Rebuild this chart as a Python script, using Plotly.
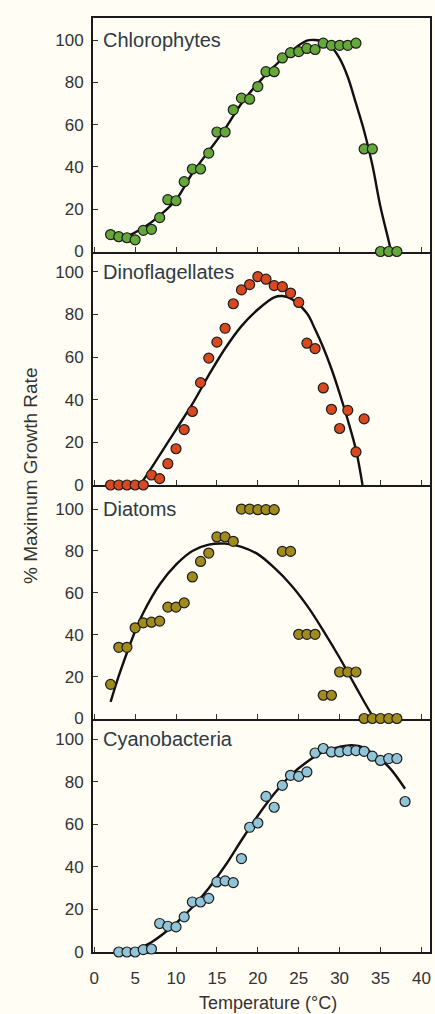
import plotly.graph_objects as go
from plotly.subplots import make_subplots

# ---------------- data ----------------
panel_names = ["Chlorophytes", "Dinoflagellates", "Diatoms", "Cyanobacteria"]
x_ticks = [0, 5, 10, 15, 20, 25, 30, 35, 40]
y_ticks = [0, 20, 40, 60, 80, 100]

chl_temp = [2, 3, 4, 5, 6, 7, 8, 9, 10, 11, 12, 13, 14, 15, 16, 17, 18, 19,
            20, 21, 22, 23, 24, 25, 26, 27, 28, 29, 30, 31, 32, 33, 34, 35, 36, 37]
chl_rate = [8, 7, 6.5, 5.5, 10, 10.5, 16, 24.5, 24, 33, 39, 39, 46.5, 56.5, 56.5, 67, 72.5, 72,
            78, 85, 85, 91.5, 94, 94.5, 96, 95.5, 98.5, 97.5, 97.5, 97.5, 98.5, 48.5, 48.5, 0, 0, 0]
chl_fit_temp = [2, 3, 4, 6, 8, 10, 12, 14, 16, 18, 20, 22, 24, 26, 27, 28, 29, 30, 31, 32, 33, 34, 35, 36, 36.3]
chl_fit_rate = [6.3, 6.2, 7.2, 11.2, 17, 24.5, 37, 47.5, 58, 70, 79.5, 87.5, 94.5, 99.7, 100, 99.2,
                96.8, 91.3, 82.5, 70, 57, 41, 21, 5, 0]

din_temp = [2, 3, 4, 5, 6, 7, 8, 9, 10, 11, 12, 13, 14, 15, 16, 17, 18, 19, 20, 21,
            22, 23, 24, 25, 26, 27, 28, 29, 30, 31, 32, 33]
din_rate = [0, 0, 0, 0, 0, 4.7, 3, 10, 17, 26, 34.5, 48, 59.5, 67, 73.5, 85, 91.5, 94, 97.7, 96.5,
            93.5, 93, 90, 85.6, 66.5, 64, 45.5, 35.5, 26.5, 35, 15.5, 31]
din_fit_temp = [5.5, 6, 8, 10, 12, 14, 16, 18, 20, 22, 23, 24, 26, 27, 28, 29, 30, 31, 32, 32.8]
din_fit_rate = [0, 2.3, 14, 26, 38, 51.5, 64, 74.5, 82.3, 88, 88.6, 87.5, 80.5, 73, 64.5, 54.5,
                43, 30.5, 16.5, 0]

dia_temp = [2, 3, 4, 5, 6, 7, 8, 9, 10, 11, 12, 13, 14, 15, 16, 17, 18, 19, 20, 21,
            22, 23, 24, 25, 26, 27, 28, 29, 30, 31, 32, 33, 34, 35, 36, 37]
dia_rate = [16.3, 34, 34, 43.3, 45.7, 46, 46.5, 53.2, 53.2, 55.2, 67.6, 75, 79, 86.7, 86.7, 84.6,
            100, 100, 99.7, 99.7, 99.7, 79.8, 79.8, 40.2, 40.2, 40.2, 11.1, 11.1, 22.2, 22.2, 22.2,
            0, 0, 0, 0, 0]
dia_fit_temp = [2, 3, 4, 5, 6, 8, 10, 12, 14, 16, 18, 20, 22, 24, 26, 28, 30, 31, 32, 33, 34.2]
dia_fit_rate = [7.9, 20.3, 31.4, 41.7, 50.5, 64, 73.5, 80, 83, 83.5, 82, 78.5, 72, 64, 54, 42,
                29, 22, 15, 8, 0]

cya_temp = [3, 4, 5, 6, 7, 8, 9, 10, 11, 12, 13, 14, 15, 16, 17, 18, 19, 20, 21, 22,
            23, 24, 25, 26, 27, 28, 29, 30, 31, 32, 33, 34, 35, 36, 37, 38]
cya_rate = [0, 0, 0, 1.1, 1.4, 13.4, 12.1, 11.8, 16.5, 23.5, 23.5, 25.2, 32.9, 33.4, 32.6, 43.9,
            58.6, 60.6, 73.1, 68, 78.3, 83, 82.5, 84.6, 93.5, 95.6, 94, 94, 94.6, 94.6, 94.3, 92,
            90, 90.9, 90.9, 70.7]
cya_fit_temp = [3, 5, 7, 10, 12, 14, 16, 18, 20, 22, 24, 26, 28, 30, 31.5, 33, 34, 36, 38]
cya_fit_rate = [0, 1.1, 4.6, 13.5, 21, 30, 40.5, 52.5, 64, 74.3, 83, 89.3, 94, 96.4, 97.2, 96,
                93.2, 87, 76.7]

point_temps = [chl_temp, din_temp, dia_temp, cya_temp]
point_rates = [chl_rate, din_rate, dia_rate, cya_rate]
fit_temps = [chl_fit_temp, din_fit_temp, dia_fit_temp, cya_fit_temp]
fit_rates = [chl_fit_rate, din_fit_rate, dia_fit_rate, cya_fit_rate]

# ---------------- style ----------------
marker_colors = ["#64a83a", "#d8491f", "#a08b1c", "#92c4d8"]
y_tops = [110.4, 109.5, 111.5, 109.7]
BG = "#fffdf4"
FONT = "Liberation Sans, Arial, sans-serif"

fig = make_subplots(rows=4, cols=1, shared_xaxes=True, vertical_spacing=0)

for i in range(4):
    r = i + 1
    fig.add_trace(go.Scatter(
        x=fit_temps[i], y=fit_rates[i], mode="lines",
        line=dict(color="#111111", width=2.4, shape="spline", smoothing=1.0),
        cliponaxis=False, hoverinfo="skip", showlegend=False), row=r, col=1)
    fig.add_trace(go.Scatter(
        x=point_temps[i], y=point_rates[i], mode="markers",
        marker=dict(size=10, color=marker_colors[i],
                    line=dict(color="#1c1c1c", width=1.2)),
        cliponaxis=False, showlegend=False), row=r, col=1)
    fig.add_annotation(
        text=panel_names[i], xref="x domain" if r == 1 else f"x{r} domain",
        yref="y" if r == 1 else f"y{r}", x=0.024, y=100,
        xanchor="left", yanchor="middle", showarrow=False,
        font=dict(family=FONT, size=20, color="#2e3a44"))
    fig.update_yaxes(
        row=r, col=1, range=[0, y_tops[i]], tickvals=y_ticks,
        showline=True, mirror=True, linecolor="#1a1a1a", linewidth=2,
        ticks="inside", ticklen=5, tickwidth=1.3, tickcolor="#333333",
        showgrid=False, zeroline=False, layer="below traces",
        tickfont=dict(family=FONT, size=17, color="#333333"),
        ticklabelstandoff=4)
    fig.update_xaxes(
        row=r, col=1, range=[-0.15, 41.05], tickvals=x_ticks,
        showline=True, mirror=(r == 1), linecolor="#1a1a1a", linewidth=2,
        ticks="inside", ticklen=5, tickwidth=1.3, tickcolor="#333333",
        showgrid=False, zeroline=False, layer="below traces",
        showticklabels=(r == 4),
        tickfont=dict(family=FONT, size=17, color="#333333"),
        ticklabelstandoff=10)

fig.add_annotation(text="% Maximum Growth Rate", xref="paper", yref="paper",
                   x=-0.186, y=0.51, textangle=-90, showarrow=False,
                   xanchor="center", yanchor="middle",
                   font=dict(family=FONT, size=19, color="#333333"))
fig.add_annotation(text="Temperature (\u00b0C)", xref="paper", yref="paper",
                   x=0.52, y=-0.0545, showarrow=False,
                   xanchor="center", yanchor="middle",
                   font=dict(family=FONT, size=18, color="#333333"))

fig.update_layout(
    width=435, height=1014,
    margin=dict(l=93, r=3, t=18, b=62),
    paper_bgcolor=BG, plot_bgcolor="rgba(0,0,0,0)",
    showlegend=False,
)

fig.write_html(
    "out.html",
    config={"displayModeBar": False},
    post_script="document.body.style.margin='0';document.body.style.background='#fffdf4';",
)
